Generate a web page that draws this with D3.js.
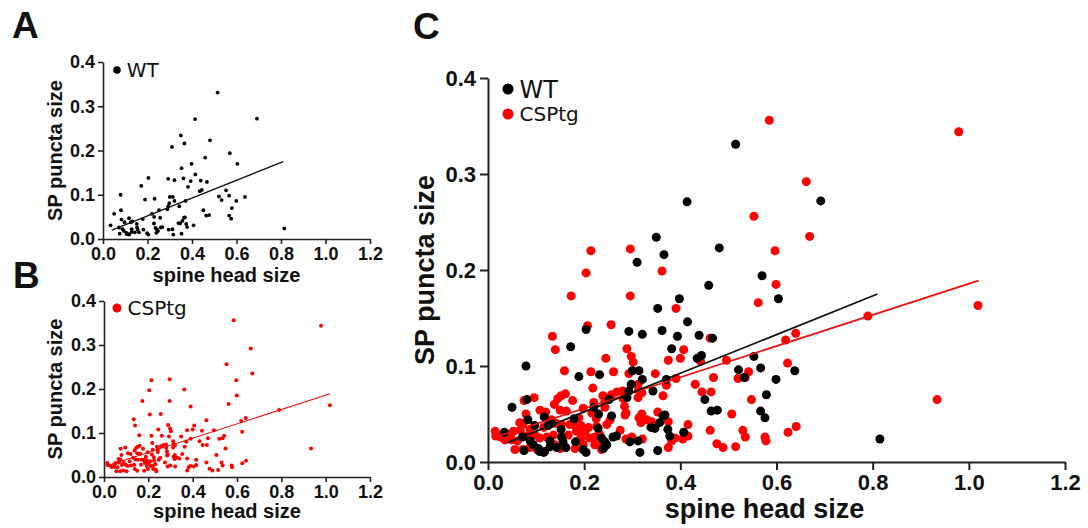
<!DOCTYPE html>
<html>
<head>
<meta charset="utf-8">
<script src="https://cdn.jsdelivr.net/npm/d3@7"></script>
<style>
body{margin:0;background:#fff;}
svg text{font-family:"Liberation Sans",Arial,sans-serif;font-weight:bold;fill:#111;}
.legend text{font-family:"DejaVu Sans",sans-serif;font-weight:normal;}
</style>
</head>
<body>
<svg id="chart" width="1088" height="528"></svg>
<script>
// axis ticks
const xTicks = [0, 0.2, 0.4, 0.6, 0.8, 1.0, 1.2]
const yTicks = [0, 0.1, 0.2, 0.3, 0.4]

// WT: [spine head size, SP puncta size]
const wt = [
  [0.034,0.031],[0.050,0.057],[0.079,0.100],[0.081,0.065],[0.075,0.012],[0.083,0.044],[0.072,0.026],
  [0.097,0.038],[0.088,0.022],[0.094,0.018],[0.105,0.014],[0.107,0.011],[0.116,0.010],[0.118,0.011],
  [0.117,0.047],[0.125,0.038],[0.129,0.022],[0.132,0.040],[0.129,0.016],[0.143,0.015],[0.152,0.034],
  [0.153,0.026],[0.156,0.021],[0.162,0.015],[0.172,0.120],[0.179,0.045],[0.182,0.021],[0.189,0.089],
  [0.198,0.013],[0.204,0.010],[0.204,0.138],[0.220,0.057],[0.230,0.050],[0.232,0.091],[0.229,0.035],
  [0.236,0.025],[0.243,0.021],[0.247,0.018],[0.240,0.014],[0.252,0.065],[0.257,0.048],[0.260,0.026],
  [0.267,0.027],[0.289,0.067],[0.293,0.136],[0.293,0.074],[0.298,0.081],[0.300,0.095],[0.295,0.021],
  [0.312,0.022],[0.310,0.208],[0.316,0.010],[0.314,0.095],[0.321,0.133],[0.321,0.086],[0.339,0.036],
  [0.343,0.074],[0.350,0.234],[0.353,0.160],[0.353,0.012],[0.357,0.041],[0.362,0.137],[0.364,0.048],
  [0.366,0.216],[0.371,0.086],[0.374,0.034],[0.378,0.027],[0.347,0.035],[0.368,0.049],[0.382,0.118],
  [0.394,0.131],[0.398,0.170],[0.407,0.031],[0.414,0.271],[0.415,0.146],[0.439,0.132],[0.435,0.108],
  [0.444,0.111],[0.451,0.065],[0.459,0.184],[0.467,0.129],[0.464,0.053],[0.477,0.054],[0.481,0.223],
  [0.515,0.331],[0.521,0.096],[0.533,0.088],[0.553,0.110],[0.567,0.098],[0.567,0.053],[0.570,0.194],
  [0.576,0.046],[0.579,0.070],[0.599,0.086],[0.604,0.170],[0.638,0.095],[0.692,0.272],[0.815,0.024]
]

// CSPtg
const csp = [
  [0.016,0.027],[0.026,0.026],[0.047,0.029],[0.056,0.013],[0.061,0.022],[0.066,0.041],[0.075,0.064],
  [0.079,0.050],[0.081,0.027],[0.088,0.034],[0.096,0.067],[0.102,0.013],[0.107,0.025],[0.116,0.036],
  [0.120,0.052],[0.134,0.131],[0.140,0.117],[0.138,0.060],[0.145,0.066],[0.152,0.069],[0.159,0.095],
  [0.161,0.071],[0.163,0.053],[0.173,0.173],[0.176,0.064],[0.179,0.039],[0.184,0.032],[0.189,0.046],
  [0.193,0.025],[0.193,0.038],[0.204,0.197],[0.207,0.142],[0.209,0.036],[0.211,0.025],[0.214,0.220],
  [0.214,0.094],[0.218,0.077],[0.220,0.062],[0.225,0.045],[0.232,0.029],[0.236,0.013],[0.239,0.069],
  [0.243,0.057],[0.245,0.108],[0.256,0.143],[0.261,0.094],[0.275,0.033],[0.280,0.074],[0.284,0.058],
  [0.287,0.024],[0.289,0.118],[0.293,0.092],[0.296,0.222],[0.296,0.173],[0.298,0.110],[0.302,0.104],
  [0.312,0.081],[0.312,0.067],[0.314,0.046],[0.318,0.041],[0.321,0.024],[0.348,0.092],[0.353,0.052],
  [0.362,0.199],[0.364,0.069],[0.371,0.080],[0.375,0.106],[0.375,0.015],[0.382,0.022],[0.391,0.160],
  [0.391,0.087],[0.400,0.108],[0.407,0.117],[0.405,0.024],[0.416,0.027],[0.416,0.039],[0.431,0.081],
  [0.442,0.105],[0.445,0.073],[0.462,0.129],[0.464,0.073],[0.469,0.088],[0.462,0.033],[0.476,0.019],
  [0.489,0.015],[0.496,0.106],[0.507,0.050],[0.515,0.016],[0.535,0.088],[0.542,0.094],[0.530,0.033],
  [0.535,0.026],[0.548,0.065],[0.553,0.256],[0.562,0.166],[0.576,0.026],[0.578,0.022],[0.585,0.356],
  [0.597,0.220],[0.599,0.185],[0.619,0.127],[0.623,0.103],[0.640,0.134],[0.624,0.031],[0.641,0.037],
  [0.662,0.292],[0.669,0.235],[0.790,0.152],[0.934,0.065],[0.979,0.344],[1.019,0.163],
  [0.150,0.054],[0.243,0.063],[0.257,0.070],[0.073,0.040],[0.067,0.033],[0.053,0.032],[0.015,0.032],
  [0.035,0.023],[0.049,0.023],[0.073,0.013],[0.087,0.015],[0.098,0.028],[0.122,0.026],[0.108,0.054],
  [0.132,0.044],[0.143,0.040],[0.153,0.039],[0.136,0.028],[0.150,0.014],[0.139,0.018],[0.170,0.039],
  [0.167,0.028],[0.184,0.037],[0.191,0.033],[0.202,0.032],[0.198,0.056],[0.216,0.051],[0.226,0.037],
  [0.222,0.026],[0.181,0.014],[0.198,0.018],[0.222,0.018],[0.233,0.017],[0.247,0.039],[0.254,0.044],
  [0.285,0.049],[0.268,0.073],[0.520,0.087],[0.281,0.066],[0.313,0.075],[0.320,0.072],[0.287,0.051],
  [0.320,0.050],[0.330,0.044],[0.340,0.042],[0.375,0.042],[0.299,0.026],[0.389,0.025]
]

// regression lines (end points)
const wtFit = [[0.04, 0.020], [0.81, 0.175]]
const cspFit = [[0.01, 0.025], [1.02, 0.189]]

const red = "#ff0000"
const svg = d3.select("#chart")

function panel(cfg, series) {
  const g = svg.append("g")
  const x = d3.scaleLinear().domain([0, 1.2]).range([cfg.left, cfg.right])
  const y = d3.scaleLinear().domain([0, 0.4]).range([cfg.bottom, cfg.top])

  series.forEach(s => {
    g.append("g").selectAll("circle")
      .data(s.data)
      .enter().append("circle")
      .attr("cx", d => x(d[0]))
      .attr("cy", d => y(d[1]))
      .attr("r", cfg.r)
      .attr("fill", s.color)
  })
  series.forEach(s => {
    g.append("line")
      .attr("x1", x(s.fit[0][0])).attr("y1", y(s.fit[0][1]))
      .attr("x2", x(s.fit[1][0])).attr("y2", y(s.fit[1][1]))
      .attr("stroke", s.color === red ? "#ee1111" : "#111")
      .attr("stroke-width", cfg.lineW)
  })

  const xAxis = d3.axisBottom(x).tickValues(xTicks).tickFormat(d3.format(".1f"))
    .tickSize(cfg.tick).tickSizeOuter(0).tickPadding(cfg.pad)
  const yAxis = d3.axisLeft(y).tickValues(yTicks).tickFormat(d3.format(".1f"))
    .tickSize(cfg.tick).tickSizeOuter(0).tickPadding(cfg.pad)

  const gx = g.append("g").attr("transform", `translate(0,${cfg.bottom})`).call(xAxis)
  const gy = g.append("g").attr("transform", `translate(${cfg.left},0)`).call(yAxis)
  ;[gx, gy].forEach(a => {
    a.attr("font-family", null).attr("font-size", null)
    a.selectAll("path,line").attr("stroke", "#222").attr("stroke-width", cfg.axisW)
    a.selectAll("text").style("font-size", cfg.tickFont + "px").attr("fill", "#111")
  })

  g.append("text")
    .attr("x", (cfg.left + cfg.right) / 2 + cfg.xTitleDx)
    .attr("y", cfg.xTitleY)
    .attr("text-anchor", "middle")
    .style("font-size", cfg.titleFont + "px")
    .text("spine head size")
  g.append("text")
    .attr("transform", `translate(${cfg.yTitleX},${(cfg.top + cfg.bottom) / 2}) rotate(-90)`)
    .attr("text-anchor", "middle")
    .style("font-size", cfg.titleFont + "px")
    .text("SP puncta size")
  g.append("text")
    .attr("x", cfg.letterX).attr("y", cfg.letterY)
    .style("font-size", "37px")
    .text(cfg.letter)

  const lg = g.append("g").attr("class", "legend")
  cfg.legend.forEach(l => {
    lg.append("circle").attr("cx", l.x).attr("cy", l.y).attr("r", l.r).attr("fill", l.color)
    lg.append("text").attr("x", l.x + l.r + 6).attr("y", l.y + l.size * 0.36)
      .style("font-size", l.size + "px").text(l.name)
  })
}

panel({left: 103, right: 370, top: 62, bottom: 239, r: 1.9, lineW: 1.3, tick: 5, pad: 3, axisW: 1.6,
  tickFont: 18, titleFont: 20, xTitleY: 282, xTitleDx: -10, yTitleX: 62, letter: "A", letterX: 12, letterY: 38,
  legend: [{x: 117, y: 70, r: 3.8, color: "#000", name: "WT", size: 20}]},
  [{data: wt, color: "#000", fit: wtFit}])

panel({left: 104, right: 370, top: 301, bottom: 477, r: 2, lineW: 1.1, tick: 5, pad: 3, axisW: 1.6,
  tickFont: 18, titleFont: 20, xTitleY: 518, xTitleDx: -10, yTitleX: 62, letter: "B", letterX: 13, letterY: 288,
  legend: [{x: 117, y: 308, r: 4.5, color: red, name: "CSPtg", size: 20}]},
  [{data: csp, color: red, fit: cspFit}])

panel({left: 488, right: 1065, top: 78, bottom: 462, r: 4.5, lineW: 1.8, tick: 8, pad: 4, axisW: 2,
  tickFont: 22, titleFont: 27, xTitleY: 518, xTitleDx: -12, yTitleX: 434, letter: "C", letterX: 413, letterY: 39,
  legend: [{x: 508, y: 89, r: 5.5, color: "#000", name: "WT", size: 24},
           {x: 508, y: 114, r: 5.5, color: red, name: "CSPtg", size: 20}]},
  [{data: csp, color: red, fit: cspFit}, {data: wt, color: "#000", fit: wtFit}])
</script>
</body>
</html>
